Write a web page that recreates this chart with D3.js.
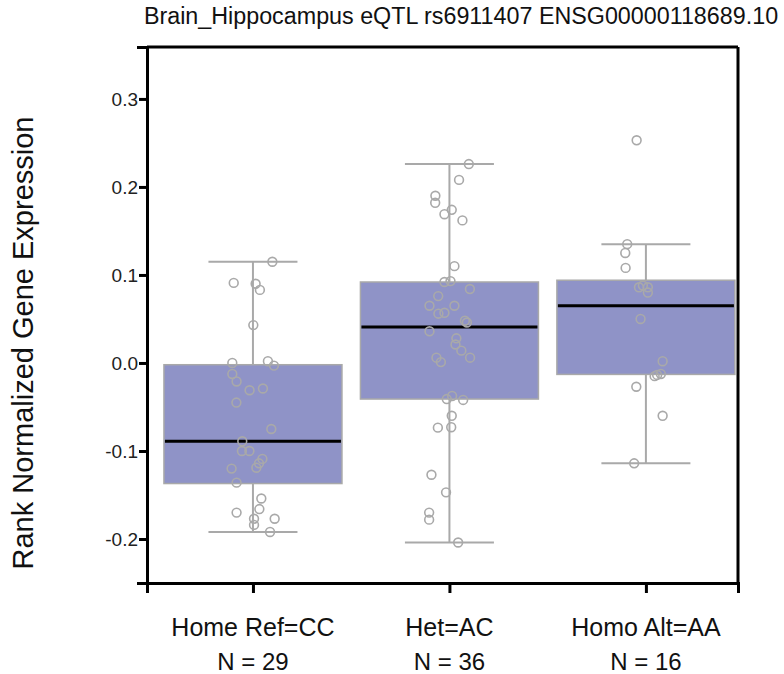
<!DOCTYPE html>
<html>
<head>
<meta charset="utf-8">
<script src="https://cdn.jsdelivr.net/npm/d3@7"></script>
<style>
  html, body { margin: 0; padding: 0; background: #fff; }
  svg { display: block; font-family: Arial, "Liberation Sans", sans-serif; }
</style>
</head>
<body>
<svg id="chart" width="784" height="674"></svg>
<script>
// ---------- data ----------
const title = "Brain_Hippocampus eQTL rs6911407 ENSG00000118689.10";
const yLabel = "Rank Normalized Gene Expression";
const categories = ["Home Ref=CC", "Het=AC", "Homo Alt=AA"];
const counts = [29, 36, 16];
const whiskerHigh = [0.115, 0.226, 0.135];
const q3 = [-0.002, 0.092, 0.094];
const medians = [-0.089, 0.041, 0.065];
const q1 = [-0.137, -0.041, -0.013];
const whiskerLow = [-0.192, -0.204, -0.114];
const yTicks = [-0.2, -0.1, 0.0, 0.1, 0.2, 0.3];

// observed expression values per genotype, with horizontal jitter (fraction of box width)
const valuesHomeRef = [0.115, 0.091, 0.090, 0.083, 0.043, 0.000, 0.002, -0.003, -0.0125, -0.021,
  -0.031, -0.029, -0.045, -0.075, -0.089, -0.100, -0.100, -0.109, -0.114, -0.119,
  -0.120, -0.136, -0.154, -0.166, -0.170, -0.177, -0.177, -0.184, -0.192];
const jitterHomeRef = [0.109, -0.108, 0.015, 0.039, 0.002, -0.116, 0.084, 0.118, -0.116, -0.092,
  -0.019, 0.056, -0.093, 0.103, -0.060, -0.062, -0.020, 0.053, 0.034, 0.019,
  -0.120, -0.092, 0.047, 0.036, -0.092, 0.006, 0.122, 0.006, 0.096];

const valuesHet = [0.226, 0.208, 0.190, 0.182, 0.174, 0.169, 0.162, 0.110, 0.092, 0.093,
  0.084, 0.076, 0.065, 0.065, 0.056, 0.057, 0.048, 0.046, 0.036, 0.028,
  0.021, 0.014, 0.006, 0.001, 0.006, -0.041, -0.0375, -0.042, -0.060, -0.0735,
  -0.073, -0.127, -0.147, -0.170, -0.178, -0.204];
const jitterHet = [0.109, 0.054, -0.079, -0.080, 0.013, -0.028, 0.073, 0.028, -0.028, 0.006,
  0.115, -0.063, -0.112, 0.028, -0.062, -0.028, 0.087, 0.098, -0.112, 0.039,
  0.034, 0.067, -0.073, -0.048, 0.116, -0.015, 0.015, 0.077, 0.013, -0.065,
  0.010, -0.101, -0.019, -0.114, -0.114, 0.049];

const valuesHomoAlt = [0.253, 0.135, 0.125, 0.108, 0.086, 0.088, 0.086, 0.080, 0.050, 0.002,
  -0.0125, -0.0136, -0.015, -0.027, -0.060, -0.114];
const jitterHomoAlt = [-0.052, -0.105, -0.116, -0.114, -0.039, -0.017, 0.011, 0.011, -0.030, 0.094,
  0.084, 0.063, 0.049, -0.054, 0.094, -0.066];

const pointValues = [valuesHomeRef, valuesHet, valuesHomoAlt];
const pointJitter = [jitterHomeRef, jitterHet, jitterHomoAlt];

// ---------- layout ----------
const W = 784, H = 674;
const margin = { top: 47, right: 46, bottom: 91, left: 147 };
const plotL = margin.left, plotR = W - margin.right, plotT = margin.top, plotB = H - margin.bottom;

const svg = d3.select("#chart");

const x = d3.scalePoint().domain(categories).range([plotL, plotR]).padding(0.504).align(0.535);
const step = x.step();
const boxW = step * 0.906;
const capW = boxW * 0.5;

const y = d3.scaleLinear().domain([-0.25, 0.359]).range([plotB, plotT]);

const boxes = categories.map((c, i) => ({
  cat: c, n: counts[i], hi: whiskerHigh[i], q3: q3[i], med: medians[i], q1: q1[i], lo: whiskerLow[i],
  pts: pointValues[i].map((v, j) => ({ v, j: pointJitter[i][j] }))
}));

const boxFill = "#8f93c7", grey = "#a9a9a9";

const g = svg.append("g");

// whiskers
const bg = g.selectAll("g.box").data(boxes).join("g").attr("class", "box");
bg.append("line")
  .attr("x1", d => x(d.cat)).attr("x2", d => x(d.cat))
  .attr("y1", d => y(d.hi)).attr("y2", d => y(d.lo))
  .attr("stroke", grey).attr("stroke-width", 2);
bg.append("line")
  .attr("x1", d => x(d.cat) - capW / 2).attr("x2", d => x(d.cat) + capW / 2)
  .attr("y1", d => y(d.hi)).attr("y2", d => y(d.hi))
  .attr("stroke", grey).attr("stroke-width", 2);
bg.append("line")
  .attr("x1", d => x(d.cat) - capW / 2).attr("x2", d => x(d.cat) + capW / 2)
  .attr("y1", d => y(d.lo)).attr("y2", d => y(d.lo))
  .attr("stroke", grey).attr("stroke-width", 2);
// box
bg.append("rect")
  .attr("x", d => x(d.cat) - boxW / 2).attr("width", boxW)
  .attr("y", d => y(d.q3)).attr("height", d => y(d.q1) - y(d.q3))
  .attr("fill", boxFill).attr("stroke", grey).attr("stroke-width", 1.5);
// median
bg.append("line")
  .attr("x1", d => x(d.cat) - boxW / 2 + 1).attr("x2", d => x(d.cat) + boxW / 2 - 1)
  .attr("y1", d => y(d.med)).attr("y2", d => y(d.med))
  .attr("stroke", "#000").attr("stroke-width", 3);
// points
bg.selectAll("circle").data(d => d.pts.map(p => ({ ...p, cat: d.cat }))).join("circle")
  .attr("cx", p => x(p.cat) + p.j * boxW)
  .attr("cy", p => y(p.v))
  .attr("r", 4.4)
  .attr("fill", "none")
  .attr("stroke", grey).attr("stroke-width", 1.6);

// frame (top & right)
svg.append("line").attr("x1", plotL).attr("x2", plotR).attr("y1", plotT).attr("y2", plotT)
  .attr("stroke", "#000").attr("stroke-width", 3);
svg.append("line").attr("x1", plotR).attr("x2", plotR).attr("y1", plotT).attr("y2", plotB)
  .attr("stroke", "#000").attr("stroke-width", 3);

// axes
const fmt = d => d3.format(".1f")(d).replace("\u2212", "-");
const yAxis = d3.axisLeft(y).tickValues(yTicks).tickFormat(fmt).tickSize(8).tickSizeOuter(10).tickPadding(1);
const ya = svg.append("g").attr("transform", `translate(${plotL},0)`).call(yAxis);
ya.select(".domain").attr("stroke", "#000").attr("stroke-width", 3);
ya.selectAll(".tick line").attr("stroke", "#000").attr("stroke-width", 3);
ya.selectAll(".tick text").attr("font-size", 19).attr("fill", "#222").style("font-family", "Arial, 'Liberation Sans', sans-serif");

const xAxis = d3.axisBottom(x).tickSize(10).tickSizeOuter(10).tickFormat(() => "");
const xa = svg.append("g").attr("transform", `translate(0,${plotB})`).call(xAxis);
xa.select(".domain").attr("stroke", "#000").attr("stroke-width", 3);
xa.selectAll(".tick line").attr("stroke", "#000").attr("stroke-width", 3);

// x category labels
const lab = svg.append("g").selectAll("g").data(boxes).join("g");
lab.append("text").attr("x", d => x(d.cat)).attr("y", plotB + 53)
  .attr("text-anchor", "middle").attr("font-size", 25).attr("fill", "#111").text(d => d.cat);
lab.append("text").attr("x", d => x(d.cat)).attr("y", plotB + 87)
  .attr("text-anchor", "middle").attr("font-size", 24).attr("fill", "#111").text(d => `N = ${d.n}`);

// title
svg.append("text").attr("x", 461).attr("y", 24).attr("text-anchor", "middle")
  .attr("font-size", 23.3).attr("fill", "#111").text(title);

// y label
svg.append("text").attr("transform", `translate(33,343) rotate(-90)`)
  .attr("text-anchor", "middle").attr("font-size", 29).attr("fill", "#111").text(yLabel);
</script>
</body>
</html>
